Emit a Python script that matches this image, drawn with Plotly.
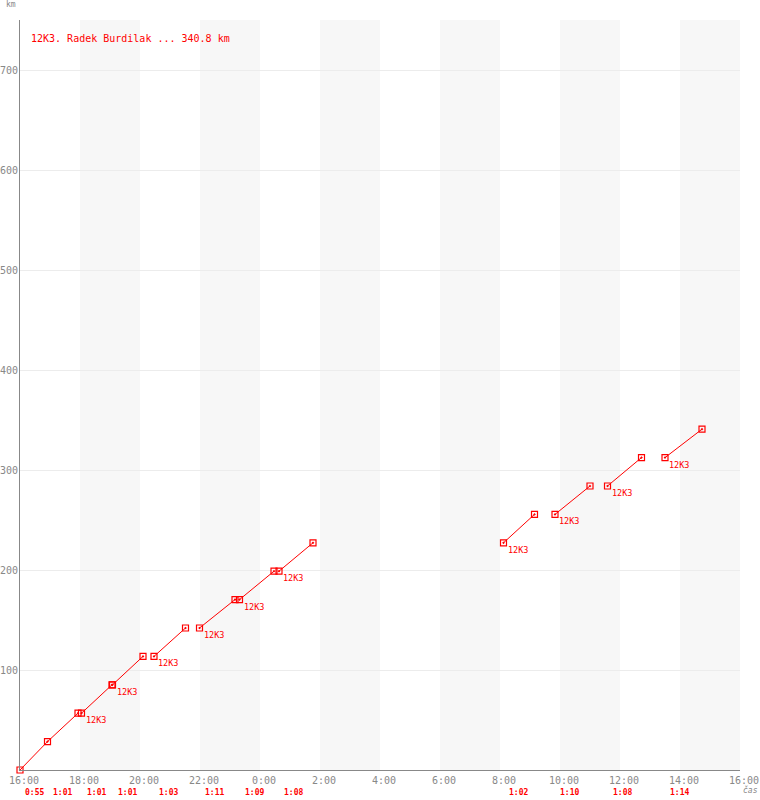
import plotly.graph_objects as go

# ---- data ----
runner_title = "12K3. Radek Burdilak ... 340.8 km"
runner_tag = "12K3"
lap_km = [28.4] * 12
# lap start, minutes after 16:00 (day 1)
lap_start_min = [0, 55, 123, 185, 268, 359, 439, 518, 967, 1070, 1175, 1290]
lap_duration_min = [55, 61, 61, 61, 63, 71, 69, 68, 62, 70, 68, 74]
lap_time_labels = ["0:55", "1:01", "1:01", "1:01", "1:03", "1:11", "1:09", "1:08",
                   "1:02", "1:10", "1:08", "1:14"]
x_tick_vals = [0, 120, 240, 360, 480, 600, 720, 840, 960, 1080, 1200, 1320, 1440]
x_tick_text = ["16:00", "18:00", "20:00", "22:00", "0:00", "2:00", "4:00",
               "6:00", "8:00", "10:00", "12:00", "14:00", "16:00"]
y_tick_vals = [100, 200, 300, 400, 500, 600, 700]
shade_bands = [(120, 240), (360, 480), (600, 720), (840, 960), (1080, 1200), (1320, 1440)]

RED = "#ff0000"
GRAY = "#888888"
FONT = "DejaVu Sans Mono"

# build polyline with breaks
xs, ys = [], []
seg_starts = []
dist = 0.0
prev_end = None
for i, (s, d) in enumerate(zip(lap_start_min, lap_duration_min)):
    e = s + d
    if prev_end is None or s != prev_end:
        if prev_end is not None:
            xs.append(None); ys.append(None)
            seg_starts.append((s, dist))
        xs.append(s); ys.append(dist)
    dist += lap_km[i]
    xs.append(e); ys.append(round(dist, 1))
    prev_end = e

fig = go.Figure()
fig.add_trace(go.Scatter(
    x=xs, y=ys, mode="lines+markers",
    line=dict(color=RED, width=1),
    marker=dict(symbol="square-open-dot", size=6, color=RED, line=dict(width=1.2, color=RED)),
    cliponaxis=False, showlegend=False, connectgaps=False, hoverinfo="skip",
))

shapes = []
for a, b in shade_bands:
    shapes.append(dict(type="rect", xref="x", yref="paper", x0=a, x1=b, y0=0, y1=1,
                       fillcolor="#f7f7f7", line=dict(width=0), layer="below"))

W, H = 760, 800
ml, mr, mt, mb = 20, 20, 20, 30
pw, ph = W - ml - mr, H - mt - mb

annotations = []
for s, d in seg_starts:
    annotations.append(dict(x=s, y=d, xref="x", yref="y", text=runner_tag, showarrow=False,
                            xanchor="left", yanchor="middle", xshift=2, yshift=-7,
                            font=dict(family=FONT, size=8.5, color=RED)))
for s, lab in zip(lap_start_min, lap_time_labels):
    annotations.append(dict(x=s, y=0, xref="x", yref="paper", text="<b>" + lab + "</b>",
                            showarrow=False, xanchor="left", yanchor="middle", xshift=3,
                            yshift=-22, font=dict(family=FONT, size=8, color=RED)))
annotations.append(dict(x=(29 - ml) / pw, y=1 - (38 - mt) / ph, xref="paper", yref="paper",
                        text=runner_title, showarrow=False, xanchor="left", yanchor="middle",
                        font=dict(family=FONT, size=10, color=RED)))
annotations.append(dict(x=0, y=1, xref="paper", yref="paper", text="km", showarrow=False,
                        xanchor="left", yanchor="bottom", xshift=-16, yshift=9,
                        font=dict(family=FONT, size=8, color=GRAY)))
annotations.append(dict(x=1, y=0, xref="paper", yref="paper", text="<i>čas</i>", showarrow=False,
                        xanchor="left", yanchor="middle", xshift=1, yshift=-20,
                        font=dict(family=FONT, size=8, color=GRAY)))

fig.update_layout(
    width=W, height=H, margin=dict(l=ml, r=mr, t=mt, b=mb, autoexpand=False),
    paper_bgcolor="white", plot_bgcolor="white",
    shapes=shapes, annotations=annotations,
    xaxis=dict(range=[0, 1440], tickvals=x_tick_vals, ticktext=x_tick_text, automargin=False,
               showgrid=False, zeroline=False, showline=True, linecolor=GRAY, linewidth=1,
               ticks="", tickfont=dict(family=FONT, size=10, color=GRAY), ticklabelshift=4,
               ticklabelstandoff=1),
    yaxis=dict(range=[0, 750], tickvals=y_tick_vals, showgrid=True, gridcolor="#ececec",
               gridwidth=1, zeroline=False, showline=True, linecolor=GRAY, linewidth=1,
               automargin=False,
               ticks="", tickfont=dict(family=FONT, size=10, color=GRAY), ticklabelstandoff=-1),
)

fig.write_html("out.html", config={"displayModeBar": False},
               post_script="document.body.style.margin='0';document.body.style.overflow='hidden';")
